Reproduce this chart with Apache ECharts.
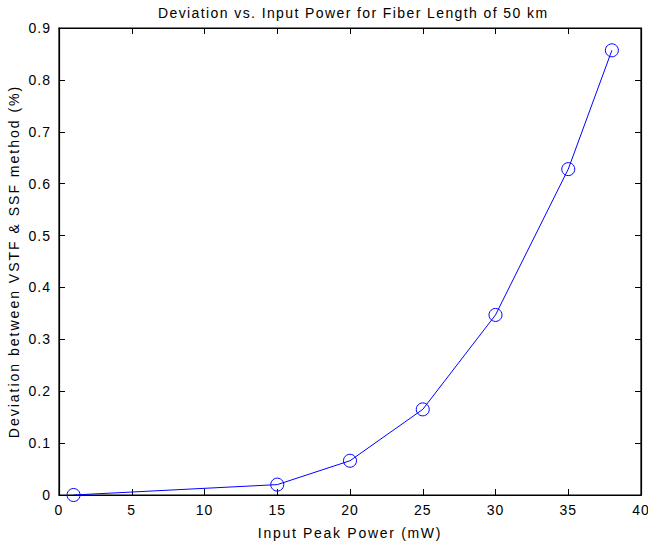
<!DOCTYPE html>
<html><head><meta charset="utf-8">
<script src="https://cdn.jsdelivr.net/npm/echarts@6/dist/echarts.min.js"></script>
<style>html,body{margin:0;padding:0;background:#fff}#c{width:648px;height:546px}</style>
</head><body><div id="c"></div>
<script>
var xValues = [1, 15, 20, 25, 30, 35, 38];
var yValues = [0, 0.02, 0.066, 0.165, 0.347, 0.628, 0.857];
var titleText = 'Deviation vs. Input Power for Fiber Length of 50 km';
var xLabel = 'Input Peak Power (mW)';
var yLabel = 'Deviation between VSTF & SSF method (%)';

var data = xValues.map(function(x, i){ return [x, yValues[i]]; });
var font = 'Liberation Sans, Arial, sans-serif';
var chart = echarts.init(document.getElementById('c'), null, {renderer:'svg'});
function axisBase(){
  return {
    axisLine:{show:true, onZero:false, lineStyle:{color:'#000', width:1.2}},
    axisTick:{show:true, inside:true, length:6, lineStyle:{color:'#000'}},
    splitLine:{show:false}
  };
}
chart.setOption({
  animation:false,
  title:{text:titleText, left:153, top:1, textStyle:{fontFamily:font, fontSize:14, fontWeight:'normal', color:'#000'}},
  grid:{left:59, right:7, top:28, bottom:51, containLabel:false, outerBoundsMode:'none',
        show:true, borderColor:'#000', borderWidth:1.2, backgroundColor:'transparent'},
  xAxis:[
    Object.assign(axisBase(), {type:'value', min:0, max:40, interval:5, position:'bottom',
      name:xLabel, nameLocation:'middle', nameGap:31, nameTextStyle:{fontFamily:font, fontSize:14, color:'#000'},
      axisLabel:{color:'#000', fontFamily:font, fontSize:14, margin:8}}),
    Object.assign(axisBase(), {type:'value', min:0, max:40, interval:5, position:'top', axisLabel:{show:false}})
  ],
  yAxis:[
    Object.assign(axisBase(), {type:'value', min:0, max:0.9, interval:0.1, position:'left',
      name:yLabel, nameLocation:'middle', nameGap:38, nameTextStyle:{fontFamily:font, fontSize:14, color:'#000'},
      axisLabel:{color:'#000', fontFamily:font, fontSize:14, margin:8, formatter:function(v){ return v===0?'0':String(Math.round(v*10)/10); }}}),
    Object.assign(axisBase(), {type:'value', min:0, max:0.9, interval:0.1, position:'right', axisLabel:{show:false}})
  ],
  series:[{
    type:'line', data:data, xAxisIndex:0, yAxisIndex:0,
    symbol:'circle', symbolSize:13, showAllSymbol:true,
    lineStyle:{color:'#0000ff', width:1},
    itemStyle:{color:'rgba(0,0,0,0)', borderColor:'#0000ff', borderWidth:1},
    emphasis:{disabled:true}
  }, {
    type:'line', data:[], xAxisIndex:1, yAxisIndex:1, silent:true, symbol:'none'
  }]
});
// MATLAB-style export spreads the glyphs out; mimic it with letter spacing
var texts = document.querySelectorAll('#c svg text');
texts.forEach(function(t){
  var s = t.textContent;
  var ls = '1px';
  if (s === titleText) ls = '1.4px';
  else if (s === xLabel) ls = '1.7px';
  else if (s === yLabel) ls = '2px';
  t.style.letterSpacing = ls;
});
</script></body></html>
